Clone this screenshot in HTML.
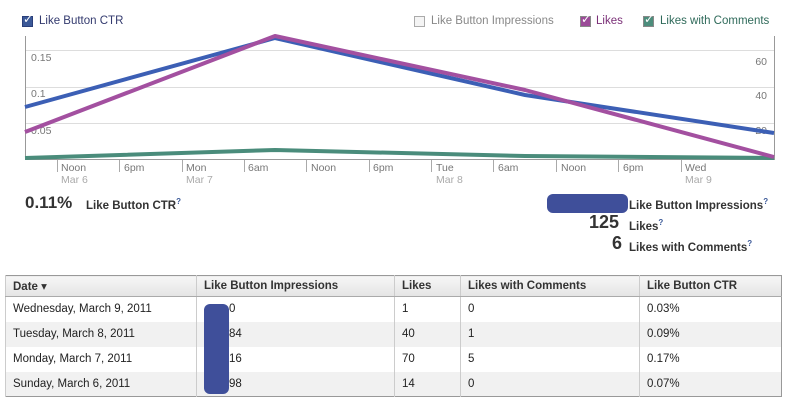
<!DOCTYPE html>
<html><head><meta charset="utf-8"><style>
body{margin:0;width:788px;height:409px;background:#fff;font-family:"Liberation Sans","DejaVu Sans",sans-serif;position:relative;overflow:hidden}
.a{position:absolute;white-space:nowrap}
.cb{position:absolute;width:11px;height:11px;border:1px solid #888;box-sizing:border-box}
table{position:absolute;left:5px;top:275px;width:777px;border-collapse:collapse;font-size:11.5px;color:#222;border:1px solid #999}
td,th{padding:0 0 0 7px;text-align:left;border-left:1px solid #ccc}
tr{height:25px}
tr.h{height:21px}
th{background:linear-gradient(#f6f6f6,#e4e4e4);border-bottom:1px solid #aaa;font-weight:bold;color:#333}
tr:nth-child(odd) td{background:#f1f1f1}
.n{margin-left:25px}
</style></head><body>
<div class="cb" style="left:22px;top:16px;background:#3b5998;border-color:#2a3f7a"></div>
<div class="a" style="left:23px;top:12px;color:#fff;font-size:12px">✓</div>
<div class="a" style="left:39px;top:15px;font-size:11.5px;color:#333a6e">Like Button CTR</div>
<div class="cb" style="left:414px;top:16px;background:#f4f4f4;border-color:#aaa"></div>
<div class="a" style="left:431px;top:15px;font-size:11.5px;color:#888">Like Button Impressions</div>
<div class="cb" style="left:580px;top:16px;background:#9b4b98"></div>
<div class="a" style="left:581px;top:12px;color:#fff;font-size:12px">✓</div>
<div class="a" style="left:596px;top:15px;font-size:11.5px;color:#7a2f77">Likes</div>
<div class="cb" style="left:643px;top:16px;background:#4d8d7c"></div>
<div class="a" style="left:644px;top:12px;color:#fff;font-size:12px">✓</div>
<div class="a" style="left:660px;top:15px;font-size:11.5px;color:#2f6a5a">Likes with Comments</div>
<svg class="a" style="left:0;top:0" width="788" height="200">
<g stroke="#ddd" stroke-width="1"><line x1="25" y1="50.5" x2="774" y2="50.5"/><line x1="25" y1="87.5" x2="774" y2="87.5"/><line x1="25" y1="123.5" x2="774" y2="123.5"/></g>
<g stroke="#999"><line x1="25.5" y1="36" x2="25.5" y2="159"/><line x1="774.5" y1="36" x2="774.5" y2="159"/><line x1="25" y1="159.5" x2="775" y2="159.5"/>
<g stroke="#aaa"><line x1="57.5" y1="160" x2="57.5" y2="172"/><line x1="119.5" y1="160" x2="119.5" y2="172"/><line x1="182.5" y1="160" x2="182.5" y2="172"/><line x1="244.5" y1="160" x2="244.5" y2="172"/><line x1="306.5" y1="160" x2="306.5" y2="172"/><line x1="369.5" y1="160" x2="369.5" y2="172"/><line x1="431.5" y1="160" x2="431.5" y2="172"/><line x1="493.5" y1="160" x2="493.5" y2="172"/><line x1="556.5" y1="160" x2="556.5" y2="172"/><line x1="618.5" y1="160" x2="618.5" y2="172"/><line x1="681.5" y1="160" x2="681.5" y2="172"/></g></g>
<g font-size="10.5" fill="#777"><text x="31" y="61">0.15</text><text x="31" y="97">0.1</text><text x="31" y="134">0.05</text>
<text x="767" y="65" text-anchor="end">60</text><text x="767" y="99" text-anchor="end">40</text><text x="767" y="134" text-anchor="end">20</text>
<text x="61" y="171">Noon</text><text x="124" y="171">6pm</text><text x="186" y="171">Mon</text><text x="248" y="171">6am</text><text x="311" y="171">Noon</text><text x="373" y="171">6pm</text><text x="436" y="171">Tue</text><text x="498" y="171">6am</text><text x="561" y="171">Noon</text><text x="623" y="171">6pm</text><text x="685" y="171">Wed</text>
<g fill="#aaa"><text x="61" y="183">Mar 6</text><text x="186" y="183">Mar 7</text><text x="436" y="183">Mar 8</text><text x="685" y="183">Mar 9</text></g></g>
<g fill="none" stroke-width="4" stroke-linejoin="round">
<polyline stroke="#4a8c7b" points="25,158 275,150 525,156 774,158"/>
<polyline stroke="#3c5fb5" points="25,107 275,38 525,95 774,133"/>
<polyline stroke="#a350a0" points="25,132 275,36 525,90 774,157"/>
</g></svg>
<div class="a" style="left:25px;top:193px;font-size:17px;font-weight:bold;color:#333">0.11%</div>
<div class="a" style="left:86px;top:197px;font-size:11.5px;font-weight:bold;color:#333">Like Button CTR<sup style="color:#3b5998;font-size:8px">?</sup></div>
<div class="a" style="left:547px;top:194px;width:81px;height:19px;background:#3f4f9a;border-radius:6px"></div>
<div class="a" style="left:629px;top:197px;font-size:11.5px;font-weight:bold;color:#333">Like Button Impressions<sup style="color:#3b5998;font-size:8px">?</sup></div>
<div class="a" style="left:589px;top:212px;font-size:18px;font-weight:bold;color:#333">125</div>
<div class="a" style="left:629px;top:218px;font-size:11.5px;font-weight:bold;color:#333">Likes<sup style="color:#3b5998;font-size:8px">?</sup></div>
<div class="a" style="left:612px;top:233px;font-size:18px;font-weight:bold;color:#333">6</div>
<div class="a" style="left:629px;top:239px;font-size:11.5px;font-weight:bold;color:#333">Likes with Comments<sup style="color:#3b5998;font-size:8px">?</sup></div>
<table>
<tr class="h"><th style="width:183px">Date ▾</th><th style="width:190px">Like Button Impressions</th><th style="width:58px">Likes</th><th style="width:171px">Likes with Comments</th><th>Like Button CTR</th></tr>
<tr><td style="background:#fff">Wednesday, March 9, 2011</td><td style="background:#fff"><span class="n">0</span></td><td style="background:#fff">1</td><td style="background:#fff">0</td><td style="background:#fff">0.03%</td></tr>
<tr><td>Tuesday, March 8, 2011</td><td><span class="n">84</span></td><td>40</td><td>1</td><td>0.09%</td></tr>
<tr><td style="background:#fff">Monday, March 7, 2011</td><td style="background:#fff"><span class="n">16</span></td><td style="background:#fff">70</td><td style="background:#fff">5</td><td style="background:#fff">0.17%</td></tr>
<tr><td>Sunday, March 6, 2011</td><td><span class="n">98</span></td><td>14</td><td>0</td><td>0.07%</td></tr>
</table>
<div class="a" style="left:204px;top:304px;width:25px;height:90px;background:#3f4f9a;border-radius:6px"></div>
</body></html>
